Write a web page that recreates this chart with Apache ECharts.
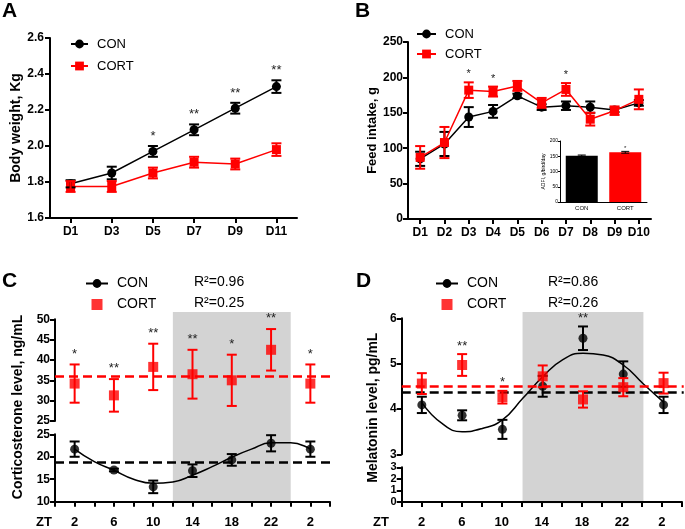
<!DOCTYPE html>
<html><head><meta charset="utf-8">
<script src="https://cdn.jsdelivr.net/npm/echarts@6/dist/echarts.min.js"></script>
<style>html,body{margin:0;padding:0;background:#fff}#c{width:685px;height:529px}</style>
</head><body><div id="c"></div>
<script>
const FONT = 'Liberation Sans, Arial, sans-serif';
const RED = '#ff0000', BLK = '#000000';

// ---- Panel A: body weight ----
const A_days = ['D1','D3','D5','D7','D9','D11'];
const A_con = [1.79,1.85,1.97,2.09,2.21,2.33];
const A_conErr = [0.02,0.035,0.03,0.03,0.03,0.035];
const A_cort = [1.775,1.775,1.85,1.91,1.90,1.98];
const A_cortErr = [0.03,0.03,0.03,0.03,0.03,0.035];
const A_sig = ['','','*','**','**','**'];

// ---- Panel B: feed intake ----
const B_days = ['D1','D2','D3','D4','D5','D6','D7','D8','D9','D10'];
const B_con = [85,106,144,152,174,158,160,158,154,164];
const B_conErr = [10,17,14,9,3,4,6,8,3,4];
const B_cort = [87,108,182,180,188,164,183,141,153,169];
const B_cortErr = [16,22,11,7,7,7,9,9,6,14];
const B_sig = ['','','*','*','','','*','','',''];

// ---- Panel B inset: ADFI ----
const I_groups = ['CON','CORT'];
const I_vals = [152,163];
const I_err = [2,3];
const I_sig = ['','*'];

// ---- Panel C: corticosterone ----
const ZT = [2,6,10,14,18,22,26];
const darkPhase = [12,24];
const C_con = [21.7,17.05,13.3,16.9,19.3,23.0,21.7];
const C_conErr = [1.7,0.3,1.4,1.4,1.3,1.8,1.7];
const C_cort = [34.2,31.3,38.3,36.5,35.0,42.5,34.2];
const C_cortErr = [4.7,4.0,5.7,6.0,6.3,5.1,4.7];
const C_sig = ['*','**','**','**','*','**','*'];
const C_fitX = [2,4,6,8,10,12,14,16,18,20,22,24,26];
const C_fitY = [21.7,18.9,17.0,15.0,14.1,14.4,15.9,17.8,19.9,21.7,23.1,23.1,21.7];
const C_mesor = {CON:18.7, CORT:36.1};
const C_r2 = {CON:'0.96', CORT:'0.25'};

// ---- Panel D: melatonin ----
const D_con = [4.09,3.86,3.55,4.5,5.56,4.77,4.09];
const D_conErr = [0.18,0.11,0.21,0.23,0.26,0.28,0.18];
const D_cort = [4.56,4.97,4.26,4.72,4.21,4.48,4.57];
const D_cortErr = [0.23,0.24,0.14,0.24,0.18,0.2,0.23];
const D_sig = ['','**','*','','**','',''];
const D_fitX = [2,4,6,8,10,12,14,16,18,20,22,24,26];
const D_fitY = [4.14,3.68,3.50,3.57,3.76,4.23,4.71,5.09,5.23,5.19,4.97,4.55,4.15];
const D_mesor = {CON:4.36, CORT:4.51};
const D_r2 = {CON:'0.86', CORT:'0.26'};

const ztLabel = v => (v % 4 === 2) ? String(v > 24 ? v - 24 : v) : '';

// ---------- helpers ----------
function errBars(ax, xs, means, errs, color, cap, lw, z) {
  return {type:'custom', xAxisIndex:ax, yAxisIndex:ax, silent:true, z:z||4,
    data: means.map((m,i)=>[xs[i], m, errs[i]]),
    renderItem:(p, api)=>{
      const x = api.value(0), m = api.value(1), e = api.value(2);
      const t = api.coord([x, m+e]), b = api.coord([x, m-e]);
      const st = {stroke:color, lineWidth:lw};
      return {type:'group', children:[
        {type:'line', shape:{x1:t[0],y1:t[1],x2:b[0],y2:b[1]}, style:st},
        {type:'line', shape:{x1:t[0]-cap,y1:t[1],x2:t[0]+cap,y2:t[1]}, style:st},
        {type:'line', shape:{x1:b[0]-cap,y1:b[1],x2:b[0]+cap,y2:b[1]}, style:st}]};
    }};
}
function sigMarks(ax, xs, tops, sig, off, size) {
  return {type:'custom', xAxisIndex:ax, yAxisIndex:ax, silent:true, z:6,
    data: tops.map((t,i)=>[xs[i], t]),
    renderItem:(p, api)=>{
      const s = sig[p.dataIndex];
      if (!s) return {type:'group', children:[]};
      const c = api.coord([api.value(0), api.value(1)]);
      return {type:'text', x:c[0], y:c[1]-off,
        style:{text:s, align:'center', verticalAlign:'middle', font:size+'px '+FONT, fill:'#222'}};
    }};
}
const maxTop = (a,ae,b,be) => a.map((v,i)=>Math.max(v+ae[i], b[i]+be[i]));

function yAx(gi, min, max, interval, extra) {
  return Object.assign({type:'value', gridIndex:gi, min, max, interval,
    axisLine:{show:true, lineStyle:{color:BLK, width:2}},
    axisTick:{show:true, length:5, lineStyle:{color:BLK, width:2}},
    axisLabel:{color:BLK, fontFamily:FONT, fontWeight:'bold', fontSize:12, margin:5,
      showMinLabel:true, showMaxLabel:true, hideOverlap:false},
    splitLine:{show:false}}, extra||{});
}
function catX(gi, data, extra) {
  return Object.assign({type:'category', gridIndex:gi, data, boundaryGap:true,
    axisLine:{show:true, lineStyle:{color:BLK, width:2}},
    axisTick:{show:true, alignWithLabel:true, interval:0, length:5, lineStyle:{color:BLK, width:2}},
    axisLabel:{color:BLK, fontFamily:FONT, fontWeight:'bold', fontSize:12, margin:8, interval:0}}, extra||{});
}
function ztX(gi, show) {
  return {type:'value', gridIndex:gi, min:0, max:28, interval:2, show:show, z:5,
    axisLine:{show:true, lineStyle:{color:BLK, width:2}},
    axisTick:{show:true, length:5, lineStyle:{color:BLK, width:2}},
    axisLabel:{color:BLK, fontFamily:FONT, fontWeight:'bold', fontSize:13, margin:14, formatter:ztLabel},
    splitLine:{show:false}};
}
const hiddenY = (gi, name, gap) => ({type:'value', gridIndex:gi, min:0, max:1,
  axisLine:{show:false}, axisTick:{show:false}, axisLabel:{show:false}, splitLine:{show:false},
  name, nameLocation:'middle', nameGap:gap,
  nameTextStyle:{color:BLK, fontFamily:FONT, fontWeight:'bold', fontSize:14}});
const nameStyle = size => ({color:BLK, fontFamily:FONT, fontWeight:'bold', fontSize:size});

function bgRect(ax) {
  return {type:'custom', xAxisIndex:ax, yAxisIndex:ax, silent:true, z:0,
    data:[darkPhase],
    renderItem:(p, api)=>{
      const a = api.coord([api.value(0), 1]), b = api.coord([api.value(1), 0]);
      return {type:'rect', shape:{x:a[0], y:a[1], width:b[0]-a[0], height:b[1]-a[1]}, style:{fill:'#d3d3d3'}};
    }};
}
function mesorLine(val, color) {
  return {silent:true, symbol:'none', label:{show:false}, animation:false,
    lineStyle:{color, width:2.5, type:[9,5]}, data:[{yAxis:val}]};
}
const SQUARE = 'path://M0,0h10v10h-10z';
const legendBase = (left, top, itemWidth, gap, fs, data) => ({
  orient:'vertical', left, top, padding:0, itemWidth, itemHeight:11, itemGap:gap,
  selectedMode:false, data, formatter:n=>n.split('_')[0],
  textStyle:{color:BLK, fontFamily:FONT, fontSize:fs, lineHeight:fs+1, padding:[0,0,0,4]}});

const option = {
  animation:false,
  grid:[
    {left:50, top:38, width:247, height:180},          // 0 A
    {left:408, top:42, width:243, height:177},         // 1 B
    {left:560, top:141, width:87, height:61},          // 2 inset
    {left:55, top:312, width:275, height:190},         // 3 C bg
    {left:55, top:319.3, width:275, height:101.7},     // 4 C upper
    {left:55, top:434.3, width:275, height:67.4},      // 5 C lower
    {left:401.7, top:312, width:282, height:191.3},    // 6 D bg
    {left:401.7, top:318.3, width:282, height:136},    // 7 D upper
    {left:401.7, top:467.3, width:282, height:36}      // 8 D lower
  ],
  xAxis:[
    catX(0, A_days),
    catX(1, B_days),
    catX(2, I_groups, {axisLine:{show:true, lineStyle:{color:BLK, width:1}}, axisTick:{show:false},
      axisLabel:{color:BLK, fontFamily:FONT, fontSize:6, margin:3, interval:0}}),
    {type:'value', gridIndex:3, min:0, max:28, show:false},
    ztX(4, false),
    ztX(5, true),
    {type:'value', gridIndex:6, min:0, max:28, show:false},
    ztX(7, false),
    ztX(8, true)
  ],
  yAxis:[
    yAx(0, 1.6, 2.6, 0.2, {axisLabel:{color:BLK, fontFamily:FONT, fontWeight:'bold', fontSize:12, margin:6, formatter:v=>v.toFixed(1)},
      name:'Body weight, Kg', nameLocation:'middle', nameGap:24, nameTextStyle:nameStyle(14)}),
    yAx(1, 0, 250, 50, {name:'Feed intake, g', nameLocation:'middle', nameGap:28, nameTextStyle:nameStyle(13)}),
    yAx(2, 0, 200, 50, {axisLine:{show:true, lineStyle:{color:BLK, width:1}},
      axisTick:{show:true, length:2, lineStyle:{color:BLK, width:1}},
      axisLabel:{color:BLK, fontFamily:FONT, fontSize:5, margin:2},
      name:'ADFI, g/bird/day', nameLocation:'middle', nameGap:10, nameTextStyle:{color:BLK, fontFamily:FONT, fontSize:5}}),
    hiddenY(3, 'Corticosterone level, ng/mL', 30),
    yAx(4, 25, 50, 5),
    yAx(5, 10, 25, 5),
    hiddenY(6, 'Melatonin level, pg/mL', 22),
    yAx(7, 3, 6, 1),
    yAx(8, 0, 3, 1, {axisLabel:{color:BLK, fontFamily:FONT, fontWeight:'bold', fontSize:11, lineHeight:9,
      margin:5, showMinLabel:true, showMaxLabel:true, hideOverlap:false}})
  ],
  legend:[
    legendBase(70, 37, 17, 8, 13, ['CON_A','CORT_A']),
    legendBase(416, 27, 19, 6, 13, ['CON_B','CORT_B']),
    legendBase(85, 276, 22, 6, 14, ['CON_C', {name:'CORT_C', icon:SQUARE}]),
    legendBase(435, 276, 22, 6, 14, ['CON_D', {name:'CORT_D', icon:SQUARE}])
  ],
  graphic:[
    {type:'text', left:2, top:1, style:{text:'A', font:'bold 21px '+FONT, fill:BLK}},
    {type:'text', left:355, top:1, style:{text:'B', font:'bold 21px '+FONT, fill:BLK}},
    {type:'text', left:2, top:271, style:{text:'C', font:'bold 21px '+FONT, fill:BLK}},
    {type:'text', left:356, top:271, style:{text:'D', font:'bold 21px '+FONT, fill:BLK}},
    {type:'text', left:36, top:516, style:{text:'ZT', font:'bold 13px '+FONT, fill:BLK}},
    {type:'text', left:373, top:516, style:{text:'ZT', font:'bold 13px '+FONT, fill:BLK}},
    {type:'text', left:194, top:275, style:{text:'R\u00B2='+C_r2.CON, font:'14px '+FONT, fill:BLK}},
    {type:'text', left:194, top:296, style:{text:'R\u00B2='+C_r2.CORT, font:'14px '+FONT, fill:BLK}},
    {type:'text', left:548, top:275, style:{text:'R\u00B2='+D_r2.CON, font:'14px '+FONT, fill:BLK}},
    {type:'text', left:548, top:296, style:{text:'R\u00B2='+D_r2.CORT, font:'14px '+FONT, fill:BLK}}
  ],
  series:[
    // A
    errBars(0, A_days, A_con, A_conErr, BLK, 5, 2),
    errBars(0, A_days, A_cort, A_cortErr, RED, 5, 2),
    {name:'CON_A', type:'line', xAxisIndex:0, yAxisIndex:0, data:A_con, symbol:'circle', symbolSize:9,
      itemStyle:{color:BLK}, lineStyle:{color:BLK, width:1.5}, z:3},
    {name:'CORT_A', type:'line', xAxisIndex:0, yAxisIndex:0, data:A_cort, symbol:'rect', symbolSize:9,
      itemStyle:{color:RED}, lineStyle:{color:RED, width:1.5}, z:3},
    sigMarks(0, A_days, maxTop(A_con,A_conErr,A_cort,A_cortErr), A_sig, 9.5, 13),
    // B
    errBars(1, B_days, B_con, B_conErr, BLK, 5, 2),
    {name:'CON_B', type:'line', xAxisIndex:1, yAxisIndex:1, data:B_con, symbol:'circle', symbolSize:9,
      itemStyle:{color:BLK}, lineStyle:{color:BLK, width:1.5}, z:3},
    errBars(1, B_days, B_cort, B_cortErr, RED, 5, 2, 5),
    {name:'CORT_B', type:'line', xAxisIndex:1, yAxisIndex:1, data:B_cort, symbol:'rect', symbolSize:9,
      itemStyle:{color:RED}, lineStyle:{color:RED, width:1.5}, z:5},
    sigMarks(1, B_days, maxTop(B_con,B_conErr,B_cort,B_cortErr), B_sig, 8, 11),
    // inset
    {type:'bar', xAxisIndex:2, yAxisIndex:2, barWidth:32, silent:true,
      data:I_vals.map((v,i)=>({value:v, itemStyle:{color:[BLK,RED][i]}}))},
    errBars(2, I_groups, I_vals, I_err, BLK, 4, 1),
    sigMarks(2, I_groups, I_vals.map((v,i)=>v+I_err[i]), I_sig, 3, 6),
    // C
    bgRect(3),
    {name:'CON_C', type:'line', xAxisIndex:5, yAxisIndex:5, smooth:true, showSymbol:false, symbol:'circle', symbolSize:9,
      data:C_fitX.map((x,i)=>[x, C_fitY[i]]), itemStyle:{color:BLK}, lineStyle:{color:BLK, width:1.5}, z:3,
      markLine:mesorLine(C_mesor.CON, BLK)},
    errBars(5, ZT, C_con, C_conErr, BLK, 5, 2),
    {name:'CON_C_pts', type:'scatter', xAxisIndex:5, yAxisIndex:5, symbol:'circle', symbolSize:9,
      data:ZT.map((x,i)=>[x, C_con[i]]), itemStyle:{color:BLK}, z:4},
    errBars(4, ZT, C_cort, C_cortErr, RED, 5, 2),
    {name:'CORT_C', type:'scatter', xAxisIndex:4, yAxisIndex:4, symbol:'rect', symbolSize:10,
      data:ZT.map((x,i)=>[x, C_cort[i]]), itemStyle:{color:RED}, z:4,
      markLine:mesorLine(C_mesor.CORT, RED)},
    sigMarks(4, ZT, C_cort.map((v,i)=>v+C_cortErr[i]), C_sig, 10.5, 13),
    // D
    bgRect(6),
    {name:'CON_D', type:'line', xAxisIndex:7, yAxisIndex:7, smooth:true, showSymbol:false, symbol:'circle', symbolSize:9,
      data:D_fitX.map((x,i)=>[x, D_fitY[i]]), itemStyle:{color:BLK}, lineStyle:{color:BLK, width:1.5}, z:3,
      markLine:mesorLine(D_mesor.CON, BLK)},
    errBars(7, ZT, D_con, D_conErr, BLK, 5, 2),
    {name:'CON_D_pts', type:'scatter', xAxisIndex:7, yAxisIndex:7, symbol:'circle', symbolSize:9,
      data:ZT.map((x,i)=>[x, D_con[i]]), itemStyle:{color:BLK}, z:4},
    errBars(7, ZT, D_cort, D_cortErr, RED, 5, 2, 5),
    {name:'CORT_D', type:'scatter', xAxisIndex:7, yAxisIndex:7, symbol:'rect', symbolSize:10,
      data:ZT.map((x,i)=>[x, D_cort[i]]), itemStyle:{color:RED}, z:5,
      markLine:mesorLine(D_mesor.CORT, RED)},
    sigMarks(7, ZT, maxTop(D_con,D_conErr,D_cort,D_cortErr), D_sig, 8, 13)
  ]
};
const chart = echarts.init(document.getElementById('c'), null, {renderer:'canvas'});
chart.setOption(option);
</script></body></html>
